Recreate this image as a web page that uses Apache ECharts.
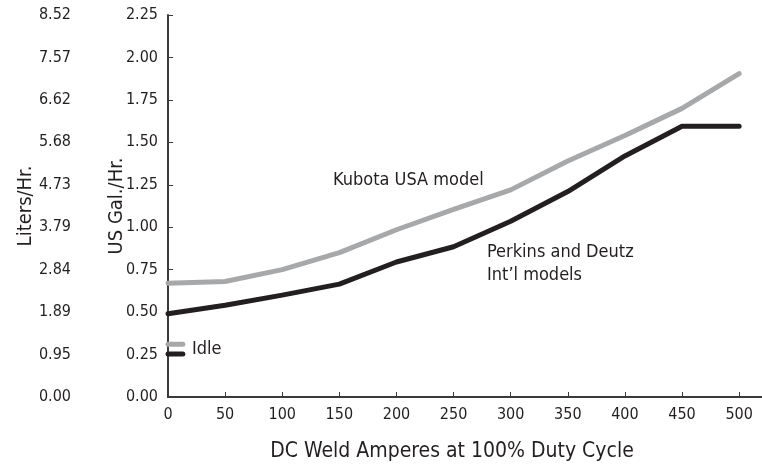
<!DOCTYPE html>
<html>
<head>
<meta charset="utf-8">
<script src="https://cdn.jsdelivr.net/npm/echarts@6/dist/echarts.min.js"></script>
<style>html,body{margin:0;padding:0;background:#fff;}#c{width:762px;height:471px;}</style>
</head>
<body>
<div id="c"></div>
<script>
const amps = [0, 50, 100, 150, 200, 250, 300, 350, 400, 450, 500];
const kubota = [0.67, 0.68, 0.75, 0.85, 0.985, 1.105, 1.22, 1.39, 1.54, 1.70, 1.905];
const perkins = [0.49, 0.54, 0.60, 0.665, 0.795, 0.885, 1.035, 1.21, 1.42, 1.595, 1.595];
const idleKubota = [[0, 0.31], [13, 0.31]];
const idlePerkins = [[0, 0.253], [13, 0.253]];
const literLabels = ['0.00', '0.95', '1.89', '2.84', '3.79', '4.73', '5.68', '6.62', '7.57', '8.52'];

const FONT = "'Liberation Sans Narrow', 'DejaVu Sans Condensed', sans-serif";
const TXT = '#231f20';
const AX = '#3a3a3a';

const chart = echarts.init(document.getElementById('c'), null, {renderer: 'canvas'});
chart.setOption({
  animation: false,
  grid: {left: 168, top: 15, right: 0, height: 382},
  textStyle: {fontFamily: FONT, color: TXT},
  xAxis: [{
    type: 'value', min: 0, max: 520, interval: 50,
    axisLine: {lineStyle: {color: AX, width: 2}},
    axisTick: {inside: true, length: 5, lineStyle: {color: AX, width: 1}},
    axisLabel: {showMaxLabel: false, margin: 10, fontSize: 16, color: TXT, fontFamily: FONT},
    splitLine: {show: false}
  }, {
    type: 'value', min: 0, max: 520, position: 'top',
    axisLine: {show: true, lineStyle: {color: AX, width: 2}},
    axisTick: {show: false}, axisLabel: {show: false}, splitLine: {show: false}
  }],
  yAxis: [{
    type: 'value', min: 0, max: 2.25, interval: 0.25, position: 'left',
    name: 'US Gal./Hr.', nameLocation: 'middle', nameGap: 41, nameRotate: 90, nameMoveOverlap: false,
    nameTextStyle: {fontSize: 20, color: TXT, fontFamily: FONT},
    axisLine: {show: true, lineStyle: {color: AX, width: 2}},
    axisTick: {show: true, inside: true, length: 5, lineStyle: {color: AX, width: 1}},
    axisLabel: {margin: 10, fontSize: 16, color: TXT, fontFamily: FONT, formatter: v => v.toFixed(2)},
    splitLine: {show: false}
  }, {
    type: 'value', min: 0, max: 9, interval: 1, position: 'left', offset: 87,
    name: 'Liters/Hr.', nameLocation: 'middle', nameGap: 45, nameRotate: 90, nameMoveOverlap: false,
    nameTextStyle: {fontSize: 20, color: TXT, fontFamily: FONT},
    axisLine: {show: false}, axisTick: {show: false},
    axisLabel: {margin: 10, fontSize: 16, color: TXT, fontFamily: FONT, formatter: v => literLabels[v]},
    splitLine: {show: false}
  }],
  graphic: [
    {type: 'text', x: 452, y: 441, style: {text: 'DC Weld Amperes at 100% Duty Cycle', align: 'center', fill: TXT, font: '21px ' + FONT}},
    {type: 'text', left: 333, top: 171, style: {text: 'Kubota USA model', fill: TXT, font: '18px ' + FONT}},
    {type: 'text', left: 487, top: 241, style: {text: 'Perkins and Deutz\nInt\u2019l models', fill: TXT, font: '18px ' + FONT, lineHeight: 23}},
    {type: 'text', left: 192, top: 340, style: {text: 'Idle', fill: TXT, font: '18px ' + FONT}}
  ],
  series: [
    {type: 'line', data: amps.map((a, i) => [a, kubota[i]]), symbol: 'none', lineStyle: {color: '#a7a8aa', width: 5, cap: 'round', join: 'round'}},
    {type: 'line', data: amps.map((a, i) => [a, perkins[i]]), symbol: 'none', lineStyle: {color: '#231f20', width: 5, cap: 'round', join: 'round'}},
    {type: 'line', data: idleKubota, symbol: 'none', lineStyle: {color: '#a7a8aa', width: 5, cap: 'round'}},
    {type: 'line', data: idlePerkins, symbol: 'none', lineStyle: {color: '#231f20', width: 5, cap: 'round'}}
  ]
});
</script>
</body>
</html>
